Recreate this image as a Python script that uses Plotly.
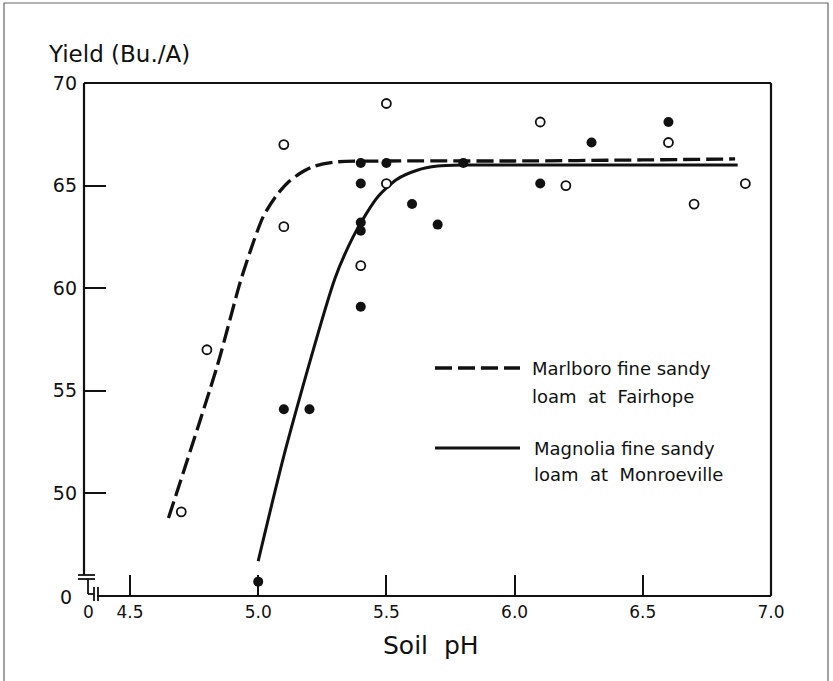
import plotly.graph_objects as go

# ---------------- data ----------------
fair_ph = [4.7, 4.8, 5.1, 5.1, 5.4, 5.5, 5.5, 6.1, 6.2, 6.6, 6.7, 6.9]
fair_yield = [49.1, 57.0, 63.0, 67.0, 61.1, 65.1, 69.0, 68.1, 65.0, 67.1, 64.1, 65.1]

monr_ph = [5.0, 5.1, 5.2, 5.4, 5.4, 5.4, 5.4, 5.4, 5.5, 5.6, 5.7, 5.8, 6.1, 6.3, 6.6]
monr_yield = [45.7, 54.1, 54.1, 66.1, 65.1, 63.2, 62.8, 59.1, 66.1, 64.1, 63.1, 66.1, 65.1, 67.1, 68.1]

fair_curve_ph = [4.65, 4.84, 4.93, 4.98, 5.02, 5.07, 5.12, 5.17, 5.22, 5.30, 5.5, 6.0, 6.5, 6.86]
fair_curve_yield = [48.8, 56.2, 60.3, 62.2, 63.5, 64.5, 65.2, 65.65, 65.95, 66.15, 66.2, 66.2, 66.25, 66.3]

monr_curve_ph = [5.0, 5.11, 5.30, 5.37, 5.42, 5.47, 5.54, 5.62, 5.70, 5.8, 6.0, 6.5, 6.87]
monr_curve_yield = [46.7, 52.3, 60.5, 62.5, 63.6, 64.5, 65.3, 65.75, 65.95, 66.0, 66.0, 66.0, 66.0]

x_ticks = [4.5, 5.0, 5.5, 6.0, 6.5, 7.0]
x_ticktext = ["4.5", "5.0", "5.5", "6.0", "6.5", "7.0"]
y_ticks = [50, 55, 60, 65, 70]
y_ticktext = ["50", "55", "60", "65", "70"]

legend_fair = ["Marlboro fine sandy", "loam  at  Fairhope"]
legend_monr = ["Magnolia fine sandy", "loam  at  Monroeville"]

# ---------------- layout geometry ----------------
W, H = 833, 681
L, R, T, B = 84, 771, 83, 596


def px(x):
    return (x - L) / (R - L)


def py(y):
    return (B - y) / (B - T)


FONT = "DejaVu Sans"
INK = "#111111"

fig = go.Figure()

fig.add_trace(go.Scatter(x=fair_curve_ph, y=fair_curve_yield, mode="lines",
                         line=dict(color=INK, width=3.3, dash="17px,6px", shape="spline", smoothing=0.7),
                         showlegend=False, hoverinfo="skip"))
fig.add_trace(go.Scatter(x=monr_curve_ph, y=monr_curve_yield, mode="lines",
                         line=dict(color=INK, width=3.0, shape="spline", smoothing=0.7),
                         showlegend=False, hoverinfo="skip"))
fig.add_trace(go.Scatter(x=fair_ph, y=fair_yield, mode="markers", cliponaxis=False,
                         marker=dict(symbol="circle", size=9, color="white",
                                     line=dict(color=INK, width=1.8)),
                         showlegend=False))
fig.add_trace(go.Scatter(x=monr_ph, y=monr_yield, mode="markers", cliponaxis=False,
                         marker=dict(symbol="circle", size=10, color=INK,
                                     line=dict(color=INK, width=0)),
                         showlegend=False))

shapes = []


def seg(x0, y0, x1, y1, w=2.2, color=INK, dash=None):
    d = dict(type="line", xref="paper", yref="paper",
             x0=px(x0), y0=py(y0), x1=px(x1), y1=py(y1),
             line=dict(color=color, width=w))
    if dash:
        d["line"]["dash"] = dash
    shapes.append(d)


# outer frame of the figure
shapes.append(dict(type="rect", xref="paper", yref="paper",
                   x0=px(4), y0=py(700), x1=px(828), y1=py(3),
                   line=dict(color="#666666", width=1.2)))
# plot frame
seg(L, T, R, T)
seg(R, T, R, B)
seg(L, T, L, 575)
seg(97, B, R, B)
# axis breaks
seg(78, 575, 95, 575, w=1.8)
seg(78, 579, 95, 579, w=1.8)
seg(88, 579, 88, 594, w=1.8)
seg(88, 594, 94, 594, w=1.8)
seg(94, 587, 94, 601, w=1.8)
seg(98, 587, 98, 601, w=1.8)
# legend samples
seg(435, 368, 520, 368, w=3.3, dash="17px,6px")
seg(435, 448, 520, 448, w=3.0)

annotations = []


def txt(s, x, y, size, anchor="left"):
    annotations.append(dict(text=s, x=px(x), y=py(y), xref="paper", yref="paper",
                            xanchor=anchor, yanchor="middle", showarrow=False,
                            font=dict(family=FONT, size=size, color=INK)))


txt("Yield (Bu./A)", 46, 54, 23)
txt("0", 74, 597, 19, anchor="right")
txt("0", 88, 612, 17, anchor="center")
txt("Soil  pH", 431, 645, 25, anchor="center")
txt(legend_fair[0], 530, 368, 18)
txt(legend_fair[1], 530, 396, 18)
txt(legend_monr[0], 532, 448, 18)
txt(legend_monr[1], 532, 474, 18)

fig.update_layout(
    width=W, height=H,
    margin=dict(l=L, r=W - R, t=T, b=H - B, pad=0),
    paper_bgcolor="white", plot_bgcolor="white",
    shapes=shapes, annotations=annotations,
    showlegend=False,
    xaxis=dict(range=[4.3206, 7.0], tickvals=x_ticks, ticktext=x_ticktext,
               ticks="inside", ticklen=21, tickwidth=1.6, tickcolor=INK,
               showgrid=False, zeroline=False, showline=False,
               tickfont=dict(family=FONT, size=17, color=INK), ticklabelstandoff=4),
    yaxis=dict(range=[45.0, 70.0], tickvals=y_ticks, ticktext=y_ticktext,
               ticks="inside", ticklen=22, tickwidth=1.6, tickcolor=INK,
               showgrid=False, zeroline=False, showline=False,
               tickfont=dict(family=FONT, size=19, color=INK), ticklabelstandoff=6),
)

fig.write_html("out.html", config={"displayModeBar": False},
               post_script="document.body.style.margin='0';document.body.style.overflow='hidden';")
